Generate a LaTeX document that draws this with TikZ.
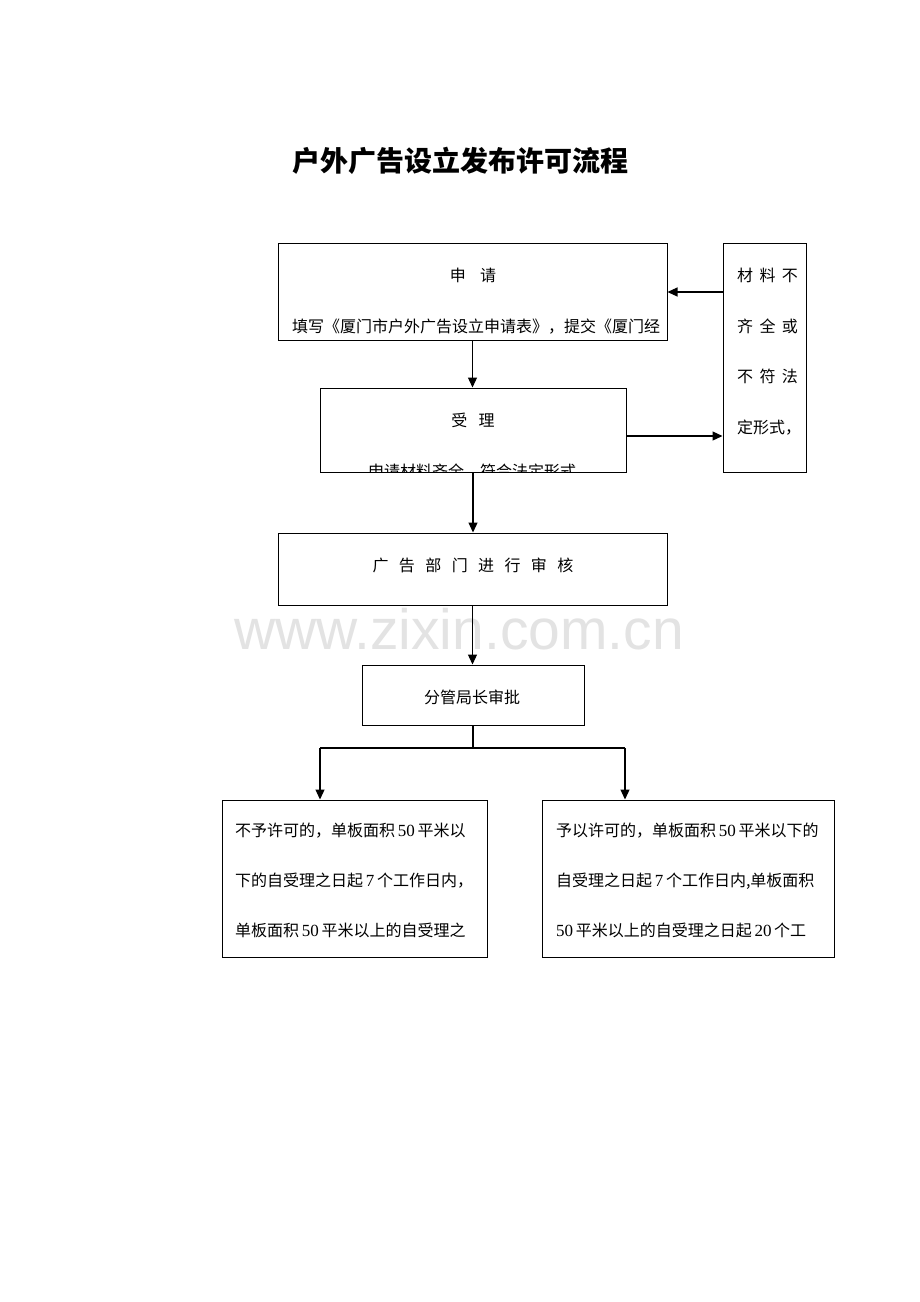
\documentclass[tikz,border=0pt]{standalone}
\usepackage{fontspec}
\setmainfont{Noto Sans CJK SC}
\newfontfamily\latf{Liberation Serif}
\newfontfamily\wmf{Liberation Sans}
\usetikzlibrary{arrows.meta,fit}
\newcommand\dg[1]{{\latf\fontsize{17}{17}\selectfont #1}}
\begin{document}
\begin{tikzpicture}[x=1pt,y=-1pt,
  box/.style={draw=black,line width=1pt,inner sep=0pt},
  txt/.style={inner sep=0pt,anchor=base west,font=\fontsize{16}{16}\selectfont},
  ctxt/.style={inner sep=0pt,anchor=base,font=\fontsize{16}{16}\selectfont},
  arr/.style={line width=1.2pt,-{Triangle[length=10pt,width=9pt]}},
  ln/.style={line width=1.2pt}]
\useasboundingbox[fill=white] (0,0) rectangle (920,1302);
% watermark
\node[inner sep=0pt,anchor=base,text=black!11,font=\wmf\fontsize{57}{57}\selectfont] (wm) at (459,649) {www.zixin.com.cn};
% title
\node[inner sep=0pt,anchor=base,font=\bfseries\fontsize{28}{28}\selectfont] (title) at (460,171) {户外广告设立发布许可流程};
% boxes
\node[box,fit={(278,243) (667,340)}] (sq) {};
\node[box,fit={(320,388) (626,472)}] (sl) {};
\node[box,fit={(723,243) (806,472)}] (bq) {};
\node[box,fit={(278,533) (667,605)}] (sh) {};
\node[box,fit={(362,665) (584,725)}] (sp) {};
\node[box,fit={(222,800) (487,957)}] (no) {};
\node[box,fit={(542,800) (834,957)}] (yes) {};
% texts
\node[ctxt] (t1) at (473,281) {申\hspace{0.9em}请};
\node[ctxt] (t2) at (476,332) {填写《厦门市户外广告设立申请表》，提交《厦门经};
\node[ctxt] (t3) at (473,426) {受\hspace{0.7em}理};
\begin{scope}
\clip (320,388) rectangle (626,471);
\node[ctxt] (t4) at (472,477) {申请材料齐全，符合法定形式};
\end{scope}
\node[txt] (r1) at (737,281) {材\hspace{0.4em}料\hspace{0.4em}不};
\node[txt] (r2) at (737,332) {齐\hspace{0.4em}全\hspace{0.4em}或};
\node[txt] (r3) at (737,382) {不\hspace{0.4em}符\hspace{0.4em}法};
\node[txt] (r4) at (737,433) {定形式，};
\node[ctxt] (t5) at (473,571) {广\hspace{0.65em}告\hspace{0.65em}部\hspace{0.65em}门\hspace{0.65em}进\hspace{0.65em}行\hspace{0.65em}审\hspace{0.65em}核};
\node[ctxt] (t6) at (472,703) {分管局长审批};
\node[txt] (l1) at (235,836) {不予许可的，单板面积\,\dg{50}\,平米以};
\node[txt] (l2) at (235,886) {下的自受理之日起\,\dg{7}\,个工作日内，};
\node[txt] (l3) at (235,936) {单板面积\,\dg{50}\,平米以上的自受理之};
\node[txt] (m1) at (556,836) {予以许可的，单板面积\,\dg{50}\,平米以下的};
\node[txt] (m2) at (556,886) {自受理之日起\,\dg{7}\,个工作日内,单板面积};
\node[txt] (m3) at (556,936) {\dg{50}\,平米以上的自受理之日起\,\dg{20}\,个工};
% connectors
\draw[arr] (sq.south) -- (sq.south |- sl.north);
\draw[arr] (sl.south) -- (sl.south |- sh.north);
\draw[arr] (sh.south) -- (sh.south |- sp.north);
\coordinate (jn) at (473,748);
\coordinate (jl) at (320,748);
\coordinate (jr) at (625,748);
\draw[ln] (sp.south) -- (jn);
\draw[ln] (jl) -- (jr);
\draw[arr] (jl) -- (jl |- no.north);
\draw[arr] (jr) -- (jr |- yes.north);
\draw[arr] (bq.west |- 0,292) -- (sq.east |- 0,292);
\draw[arr] (sl.east |- 0,436) -- (bq.west |- 0,436);
\end{tikzpicture}
\end{document}
